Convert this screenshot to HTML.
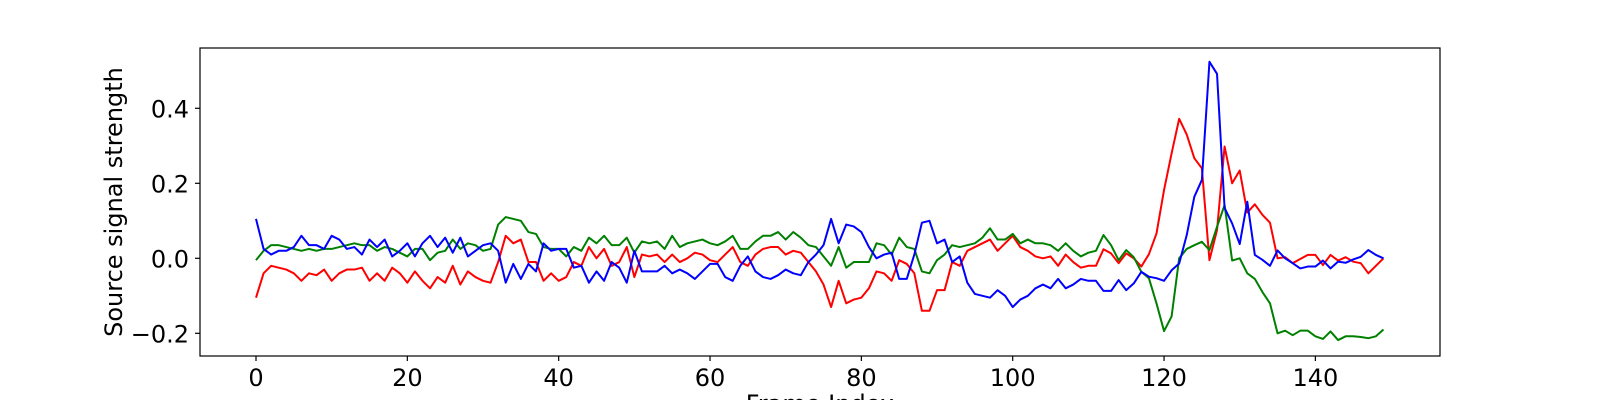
<!DOCTYPE html>
<html><head><meta charset="utf-8"><style>
html,body{margin:0;padding:0;background:#fff;}
svg{display:block;font-family:"DejaVu Sans","Liberation Sans",sans-serif;}
</style></head><body>
<svg id="chart" width="1600" height="400" viewBox="0 0 1600 400">
<rect x="0" y="0" width="1600" height="400" fill="#fff"/>
<g id="lines"></g>
<rect x="200" y="48" width="1240" height="308" fill="none" stroke="#000" stroke-width="1.2"/>
<g id="xticks"></g>
<g id="yticks"></g>
<text x="122" y="202" font-size="24" text-anchor="middle" transform="rotate(-90 122 202)">Source signal strength</text>
<text x="820" y="412" font-size="24" text-anchor="middle">Frame Index</text>
</svg>
<script>
const xTicks = [0, 20, 40, 60, 80, 100, 120, 140];
const yTicks = [-0.2, 0.0, 0.2, 0.4];
const yTickLabels = ["\u22120.2", "0.0", "0.2", "0.4"];
const redSeries = [-0.105,-0.04,-0.02,-0.025,-0.03,-0.04,-0.06,-0.04,-0.045,-0.03,-0.06,-0.04,-0.03,-0.03,-0.025,-0.06,-0.04,-0.06,-0.025,-0.04,-0.065,-0.035,-0.06,-0.08,-0.05,-0.065,-0.02,-0.07,-0.035,-0.05,-0.06,-0.065,-0.01,0.06,0.04,0.05,-0.01,-0.01,-0.06,-0.04,-0.06,-0.05,-0.01,-0.02,0.03,0,0.025,-0.02,-0.01,0.03,-0.05,0.01,0.005,0.01,-0.01,0.01,-0.01,0,0.015,0.01,-0.005,-0.01,0.01,0.03,-0.01,-0.02,0.01,0.025,0.03,0.03,0.01,0.02,0.015,-0.01,-0.035,-0.07,-0.13,-0.06,-0.12,-0.11,-0.105,-0.08,-0.035,-0.04,-0.06,-0.005,-0.015,-0.04,-0.14,-0.14,-0.085,-0.085,-0.01,-0.02,0.02,0.03,0.04,0.05,0.02,0.04,0.06,0.03,0.02,0.005,0,0.005,-0.02,0.01,-0.01,-0.025,-0.02,-0.02,0.024,0.013,-0.013,0.013,0,-0.022,0.011,0.066,0.182,0.28,0.372,0.33,0.267,0.24,-0.005,0.075,0.298,0.2,0.234,0.122,0.144,0.116,0.095,0,0.003,-0.013,-0.002,0.009,0.009,-0.018,0.009,-0.006,0.003,-0.009,-0.013,-0.04,-0.02,0];
const blueSeries = [0.105,0.025,0.01,0.02,0.02,0.03,0.06,0.035,0.035,0.025,0.06,0.05,0.025,0.03,0.01,0.05,0.03,0.05,0.005,0.02,0.04,0.005,0.04,0.06,0.03,0.055,0.015,0.055,0.005,0.02,0.035,0.04,0.02,-0.065,-0.015,-0.055,-0.015,-0.035,0.04,0.02,0.025,0.025,-0.025,-0.02,-0.065,-0.035,-0.06,-0.01,-0.025,-0.065,0.02,-0.035,-0.035,-0.035,-0.02,-0.04,-0.03,-0.04,-0.055,-0.035,-0.015,-0.015,-0.05,-0.06,-0.02,0.005,-0.035,-0.05,-0.055,-0.045,-0.03,-0.04,-0.045,-0.01,0.01,0.035,0.105,0.04,0.09,0.085,0.07,0.03,0,0.01,0.015,-0.055,-0.055,0.01,0.095,0.1,0.04,0.05,-0.01,0.005,-0.065,-0.095,-0.1,-0.105,-0.085,-0.1,-0.13,-0.11,-0.1,-0.08,-0.07,-0.08,-0.055,-0.08,-0.07,-0.055,-0.06,-0.06,-0.087,-0.087,-0.058,-0.085,-0.067,-0.036,-0.049,-0.053,-0.06,-0.032,-0.014,0.062,0.164,0.209,0.524,0.492,0.134,0.093,0.038,0.151,0.009,-0.004,-0.02,0.021,0,-0.013,-0.027,-0.022,-0.022,-0.006,-0.027,-0.009,-0.012,-0.003,0.004,0.022,0.009,0];
const greenSeries = [-0.005,0.02,0.035,0.035,0.03,0.025,0.02,0.025,0.02,0.025,0.025,0.03,0.035,0.04,0.035,0.035,0.02,0.03,0.025,0.015,0.005,0.025,0.025,-0.005,0.015,0.02,0.05,0.025,0.04,0.035,0.02,0.025,0.09,0.11,0.105,0.1,0.07,0.065,0.03,0.025,0.025,0.005,0.03,0.02,0.055,0.04,0.06,0.035,0.035,0.055,0.015,0.045,0.04,0.045,0.025,0.06,0.03,0.04,0.045,0.05,0.04,0.035,0.045,0.06,0.025,0.025,0.045,0.06,0.06,0.07,0.05,0.07,0.055,0.035,0.03,0.005,-0.02,0.03,-0.025,-0.01,-0.01,-0.01,0.04,0.035,0.01,0.055,0.03,0.025,-0.035,-0.04,-0.005,0.01,0.035,0.03,0.035,0.04,0.055,0.08,0.05,0.05,0.065,0.04,0.05,0.04,0.04,0.035,0.02,0.04,0.02,0.005,0.015,0.02,0.062,0.035,-0.005,0.022,0.003,-0.036,-0.053,-0.12,-0.194,-0.155,0,0.025,0.035,0.044,0.022,0.084,0.142,-0.006,0,-0.04,-0.055,-0.09,-0.12,-0.2,-0.193,-0.205,-0.193,-0.193,-0.208,-0.215,-0.195,-0.218,-0.208,-0.208,-0.21,-0.213,-0.208,-0.19];

const NS = "http://www.w3.org/2000/svg";
function xScale(i){ return 256 + i * 7.567; }
function yScale(v){ return 258.3 - v * 375; }

const lines = document.getElementById('lines');
function drawSeries(data, color, name){
  const p = document.createElementNS(NS, 'polyline');
  p.setAttribute('points', data.map((v,i)=>xScale(i).toFixed(2)+','+yScale(v).toFixed(2)).join(' '));
  p.setAttribute('fill','none');
  p.setAttribute('stroke',color);
  p.setAttribute('stroke-width','2');
  p.setAttribute('stroke-linejoin','round');
  
  
  lines.appendChild(p);
}
drawSeries(redSeries, '#ff0000', 'red-signal-line');
drawSeries(greenSeries, '#008000', 'green-signal-line');
drawSeries(blueSeries, '#0000ff', 'blue-signal-line');

const xg = document.getElementById('xticks');
xTicks.forEach(t=>{
  const x = xScale(t);
  const l = document.createElementNS(NS,'line');
  l.setAttribute('x1',x); l.setAttribute('x2',x); l.setAttribute('y1',356); l.setAttribute('y2',361);
  l.setAttribute('stroke','#000'); l.setAttribute('stroke-width','1.2');
  
  
  xg.appendChild(l);
  const tx = document.createElementNS(NS,'text');
  tx.setAttribute('x',x); tx.setAttribute('y',386); tx.setAttribute('font-size','24'); tx.setAttribute('text-anchor','middle');
  tx.textContent = String(t);
  
  
  xg.appendChild(tx);
});
const yg = document.getElementById('yticks');
yTicks.forEach((t,k)=>{
  const y = yScale(t);
  const l = document.createElementNS(NS,'line');
  l.setAttribute('x1',195); l.setAttribute('x2',200); l.setAttribute('y1',y); l.setAttribute('y2',y);
  l.setAttribute('stroke','#000'); l.setAttribute('stroke-width','1.2');
  
  
  yg.appendChild(l);
  const tx = document.createElementNS(NS,'text');
  tx.setAttribute('x',189); tx.setAttribute('y',y+9); tx.setAttribute('font-size','24'); tx.setAttribute('text-anchor','end');
  tx.textContent = yTickLabels[k];
  
  
  yg.appendChild(tx);
});
</script>
</body></html>
